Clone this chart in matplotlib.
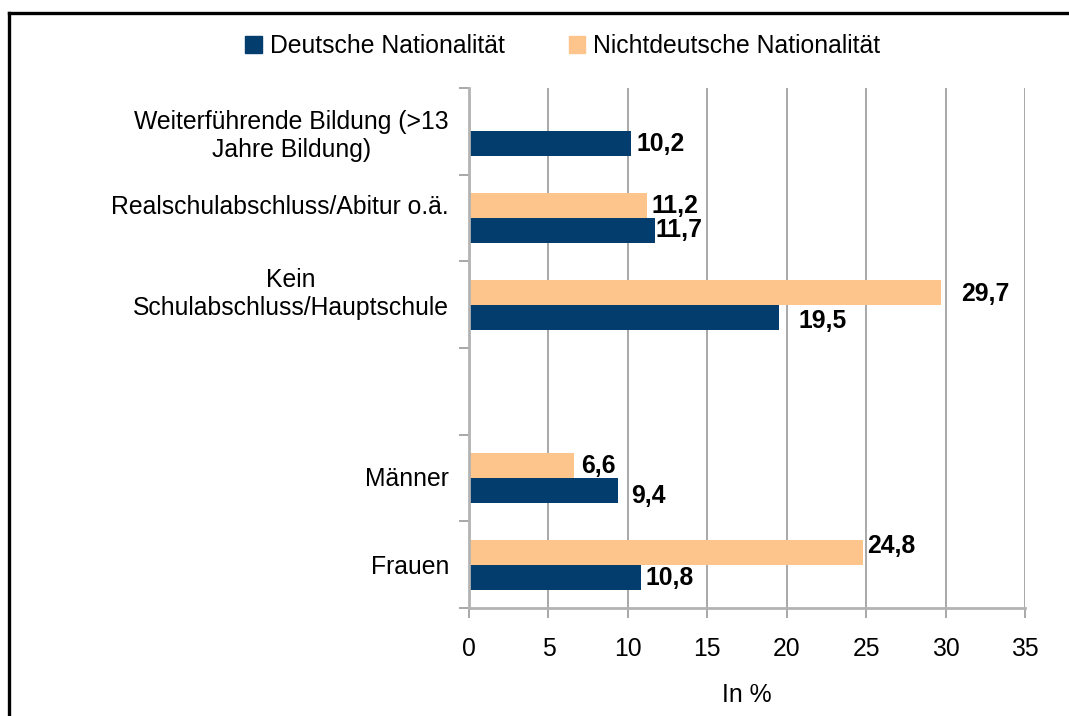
import matplotlib.pyplot as plt
from matplotlib.lines import Line2D
from matplotlib.transforms import ScaledTranslation
import numpy as np

plt.rcParams['font.family'] = ['Liberation Sans', 'DejaVu Sans']

categories = ["Weiterführende Bildung (>13\nJahre Bildung)",
              "Realschulabschluss/Abitur o.ä.",
              "Kein\nSchulabschluss/Hauptschule",
              "",
              "Männer",
              "Frauen"]
deutsch = [10.2, 11.7, 19.5, None, 9.4, 10.8]
nichtdeutsch = [None, 11.2, 29.7, None, 6.6, 24.8]
xticks = [0, 5, 10, 15, 20, 25, 30, 35]

blue = "#023d6e"
orange = "#fdc58b"
fs = 17.8

# label nudges in pixels (dx right, dy down), mimicking the original placement
off_de = [(5, 0), (1, 0), (20, 4), None, (13, 6), (5, 1)]
off_nd = [None, (5, 0), (20, 2), None, (7, 0), (4, -6)]
# category label nudges (pixels up)
cat_up = [0, 14, 15, 0, 2, 0]

fig = plt.figure(figsize=(10.69, 7.16), dpi=100)
ax = fig.add_axes([469/1069, 1-608/716, (1025-469)/1069, (608-88)/716])

h = 0.288
y = np.arange(len(categories))
px = 72/100

for i in range(len(categories)):
    if deutsch[i] is not None:
        ax.barh(y[i] + h/2, deutsch[i], height=h, color=blue, zorder=3)
        dx, dy = off_de[i]
        ax.annotate(f"{deutsch[i]:.1f}".replace(".", ","), (deutsch[i], y[i] + h/2),
                    xytext=(dx*px, -dy*px), textcoords="offset points",
                    ha="left", va="center", fontsize=fs, fontweight="bold", zorder=4)
    if nichtdeutsch[i] is not None:
        ax.barh(y[i] - h/2, nichtdeutsch[i], height=h, color=orange, zorder=3)
        dx, dy = off_nd[i]
        ax.annotate(f"{nichtdeutsch[i]:.1f}".replace(".", ","), (nichtdeutsch[i], y[i] - h/2),
                    xytext=(dx*px, -dy*px), textcoords="offset points",
                    ha="left", va="center", fontsize=fs, fontweight="bold", zorder=4)

ax.set_xlim(0, 35)
ax.set_ylim(len(categories) - 0.5, -0.5)
ax.set_xticks(xticks)
ax.set_xticklabels([str(t) for t in xticks], fontsize=fs)
ax.set_yticks(y)
ax.set_yticklabels(categories, fontsize=fs, multialignment="center")
ax.set_yticks(np.arange(-0.5, len(categories)), minor=True)
ax.tick_params(axis="y", which="major", length=0, pad=14.4)
ax.tick_params(axis="y", which="minor", length=7, color="#999999", width=1.2)
ax.tick_params(axis="x", length=7, color="#999999", width=1.2, pad=14)
for lab, up in zip(ax.get_yticklabels(), cat_up):
    lab.set_transform(lab.get_transform() + ScaledTranslation(0, up/100, fig.dpi_scale_trans))

ax.grid(axis="x", color="#999999", linewidth=1.2, zorder=0)
for s in ["top", "right"]:
    ax.spines[s].set_visible(False)
for s in ["left", "bottom"]:
    ax.spines[s].set_color("#b3b3b3")
    ax.spines[s].set_linewidth(2)
    ax.spines[s].set_zorder(5)

ax.set_xlabel("In %", fontsize=fs, labelpad=16)

handles = [plt.Rectangle((0, 0), 1, 1, color=blue), plt.Rectangle((0, 0), 1, 1, color=orange)]
fig.legend(handles, ["Deutsche Nationalität", "Nichtdeutsche Nationalität"],
           loc="center", bbox_to_anchor=(563/1069, 1-46/716), ncol=2, frameon=False,
           fontsize=fs, handlelength=0.66, handleheight=0.66, handletextpad=0.33,
           columnspacing=2.6)

# outer frame (cut at right and bottom edges, as in the original)
fig.add_artist(Line2D([9/1069, 1.01], [1-12.5/716]*2, color="black", linewidth=2.4,
                      transform=fig.transFigure))
fig.add_artist(Line2D([9/1069]*2, [-0.01, 1-12.5/716], color="black", linewidth=2.4,
                      transform=fig.transFigure))

fig.savefig("out.png", dpi=100)
